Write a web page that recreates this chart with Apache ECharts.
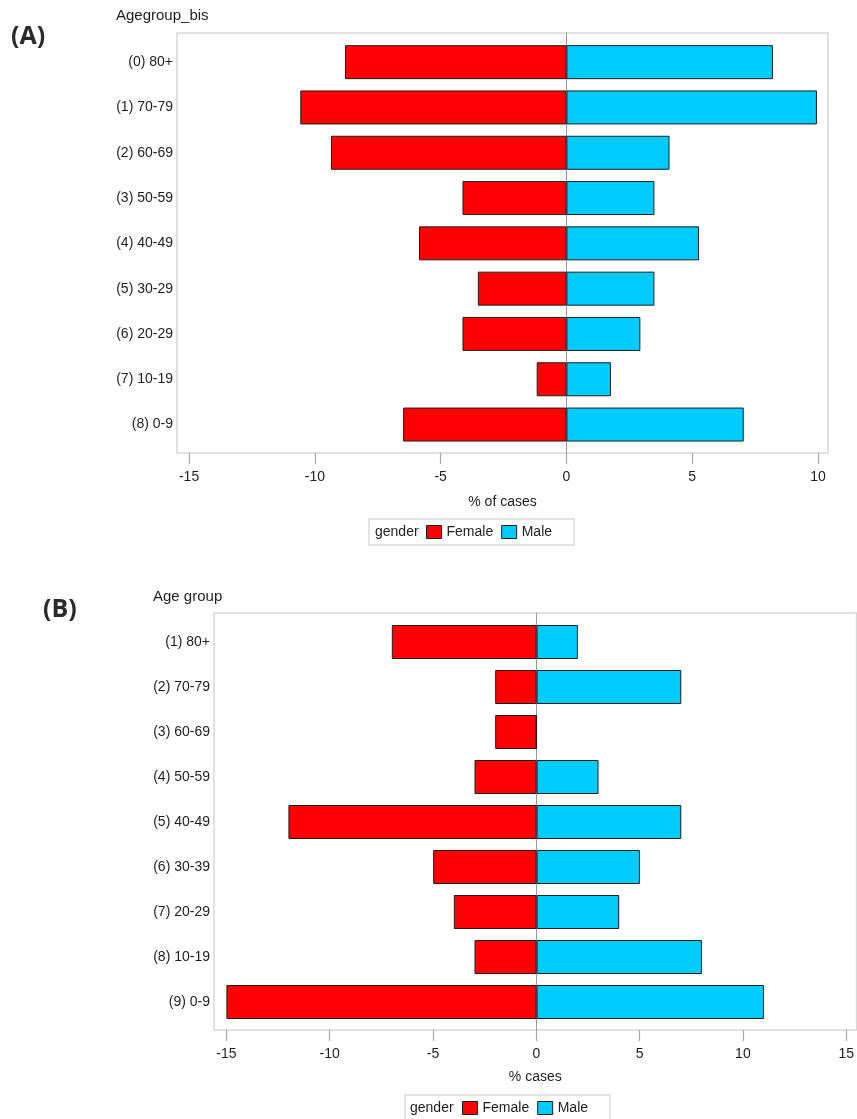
<!DOCTYPE html>
<html>
<head>
<meta charset="utf-8">
<script src="https://cdn.jsdelivr.net/npm/echarts@6/dist/echarts.min.js"></script>
<style>
html,body{margin:0;padding:0;background:#fff;}
#chart{width:857px;height:1119px;}
</style>
</head>
<body>
<div id="chart"></div>
<script>
// ---------- Data ----------
const catsA = ['(0) 80+', '(1) 70-79', '(2) 60-69', '(3) 50-59', '(4) 40-49', '(5) 30-29', '(6) 20-29', '(7) 10-19', '(8) 0-9'];
const femaleA = [-8.8, -10.58, -9.36, -4.13, -5.86, -3.52, -4.13, -1.18, -6.49];
const maleA = [8.21, 9.96, 4.1, 3.5, 5.27, 3.5, 2.94, 1.77, 7.05];

const catsB = ['(1) 80+', '(2) 70-79', '(3) 60-69', '(4) 50-59', '(5) 40-49', '(6) 30-39', '(7) 20-29', '(8) 10-19', '(9) 0-9'];
const femaleB = [-7, -2, -2, -3, -12, -5, -4, -3, -15];
const maleB = [2, 7, 0, 3, 7, 5, 4, 8, 11];

const ticksA = [-15, -10, -5, 0, 5, 10];
const ticksB = [-15, -10, -5, 0, 5, 10, 15];

const RED = '#ff0000', CYAN = '#00ccff', EDGE = '#1e1e1e';
const FONT = 'Liberation Sans, Arial, sans-serif';
const TXT = '#1e1e1e';

const chart = echarts.init(document.getElementById('chart'), null, {renderer: 'canvas'});

function frameGrid(left, top, width, height) {
  return {left, top, width, height, show: true, borderColor: '#d8d8d8', borderWidth: 1.5, backgroundColor: '#fff', containLabel: false};
}
function legendAt(left, top) {
  return {
    data: ['Female', 'Male'], left, top, orient: 'horizontal',
    itemWidth: 15, itemHeight: 13, itemGap: 8,
    padding: [6, 22, 6, 57],
    borderColor: '#dcdcdc', borderWidth: 1.5, backgroundColor: '#fff',
    icon: 'rect', selectedMode: false,
    itemStyle: {borderColor: EDGE, borderWidth: 1},
    textStyle: {fontFamily: FONT, fontSize: 14, color: TXT}
  };
}
const boldTitle = {fontFamily: 'Open Sans', fontWeight: 'bold', fontSize: 25, color: '#2a2a2a'};
const plainTitle = {fontFamily: FONT, fontWeight: 'normal', fontSize: 15, color: TXT};

const option = {
  animation: false,
  backgroundColor: '#fff',
  textStyle: {fontFamily: FONT},
  title: [
    {text: '(A)', left: 11, top: 24, padding: 0, textStyle: boldTitle},
    {text: '(B)', left: 43, top: 597, padding: 0, textStyle: boldTitle},
    {text: 'Agegroup_bis', left: 116, top: 8, padding: 0, textStyle: plainTitle},
    {text: 'Age group', left: 153, top: 589, padding: 0, textStyle: plainTitle},
    {text: 'gender', left: 375, top: 525, padding: 0, textStyle: {fontFamily: FONT, fontWeight: 'normal', fontSize: 14, color: TXT}},
    {text: 'gender', left: 410, top: 1101, padding: 0, textStyle: {fontFamily: FONT, fontWeight: 'normal', fontSize: 14, color: TXT}}
  ],
  legend: [legendAt(369, 519), legendAt(405, 1095)],
  grid: [
    frameGrid(177, 33, 651, 420),                                   // 0 A frame
    {left: 177, top: 39.5, width: 651, height: 407.7, show: false}, // 1 A bars
    frameGrid(214, 613, 645, 417),                                  // 2 B frame
    {left: 214, top: 619.5, width: 645, height: 405, show: false}   // 3 B bars
  ],
  xAxis: [
    {
      gridIndex: 0, type: 'value', min: -15.48, max: 10.4,
      name: '% of cases', nameLocation: 'middle', nameGap: 42,
      nameTextStyle: {fontFamily: FONT, fontSize: 14, color: TXT},
      axisLine: {show: false},
      axisTick: {show: true, length: 11, customValues: ticksA, lineStyle: {color: '#a8a8a8', width: 1.2}},
      axisLabel: {show: true, customValues: ticksA, margin: 17, fontSize: 14, color: TXT, fontFamily: FONT},
      splitLine: {show: false}
    },
    {gridIndex: 1, type: 'value', min: -15.48, max: 10.4, show: false},
    {
      gridIndex: 2, type: 'value', min: -15.6, max: 15.5,
      name: '% cases', nameLocation: 'middle', nameGap: 40,
      nameTextStyle: {fontFamily: FONT, fontSize: 14, color: TXT},
      axisLine: {show: false},
      axisTick: {show: true, length: 11, customValues: ticksB, lineStyle: {color: '#a8a8a8', width: 1.2}},
      axisLabel: {show: true, customValues: ticksB, margin: 17, fontSize: 14, color: TXT, fontFamily: FONT},
      splitLine: {show: false}
    },
    {gridIndex: 3, type: 'value', min: -15.6, max: 15.5, show: false}
  ],
  yAxis: [
    {
      gridIndex: 0, type: 'value', min: 0, max: 1,
      axisLine: {show: true, onZero: true, lineStyle: {color: '#9a9a9a', width: 1}},
      axisTick: {show: false}, axisLabel: {show: false}, splitLine: {show: false}
    },
    {
      gridIndex: 1, type: 'category', data: catsA, inverse: true,
      axisLine: {show: false, onZero: false}, axisTick: {show: false},
      axisLabel: {margin: 4, fontSize: 14, color: TXT, fontFamily: FONT}
    },
    {
      gridIndex: 2, type: 'value', min: 0, max: 1,
      axisLine: {show: true, onZero: true, lineStyle: {color: '#9a9a9a', width: 1}},
      axisTick: {show: false}, axisLabel: {show: false}, splitLine: {show: false}
    },
    {
      gridIndex: 3, type: 'category', data: catsB, inverse: true,
      axisLine: {show: false, onZero: false}, axisTick: {show: false},
      axisLabel: {margin: 4, fontSize: 14, color: TXT, fontFamily: FONT}
    }
  ],
  series: [
    {name: 'Female', type: 'bar', xAxisIndex: 1, yAxisIndex: 1, data: femaleA, barWidth: 34, barGap: '-100%',
     itemStyle: {color: RED, borderColor: EDGE, borderWidth: 1}},
    {name: 'Male', type: 'bar', xAxisIndex: 1, yAxisIndex: 1, data: maleA, barWidth: 34, barGap: '-100%',
     itemStyle: {color: CYAN, borderColor: EDGE, borderWidth: 1}},
    {name: 'Female', type: 'bar', xAxisIndex: 3, yAxisIndex: 3, data: femaleB, barWidth: 34, barGap: '-100%',
     itemStyle: {color: RED, borderColor: EDGE, borderWidth: 1}},
    {name: 'Male', type: 'bar', xAxisIndex: 3, yAxisIndex: 3, data: maleB, barWidth: 34, barGap: '-100%',
     itemStyle: {color: CYAN, borderColor: EDGE, borderWidth: 1}}
  ]
};
chart.setOption(option);
</script>
</body>
</html>
